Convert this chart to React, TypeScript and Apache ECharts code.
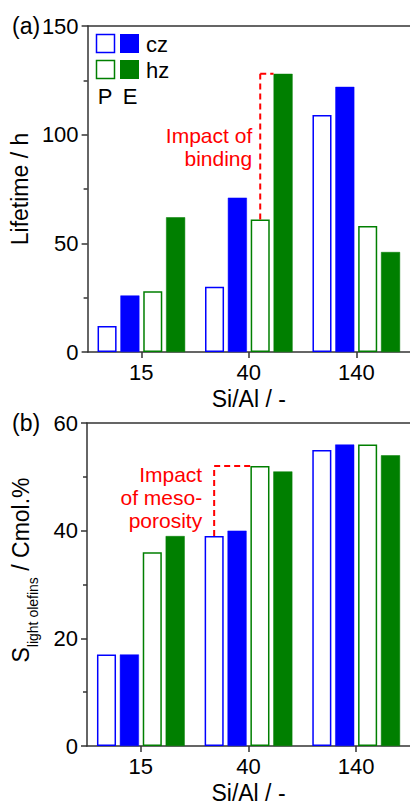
import React, { useEffect, useRef } from 'react';
import * as echarts from 'echarts';

const categories = ['15', '40', '140'];
const lifetimePcz = [12, 30, 109];
const lifetimeEcz = [26, 71, 122];
const lifetimePhz = [28, 61, 58];
const lifetimeEhz = [62, 128, 46];
const selPcz = [17, 39, 55];
const selEcz = [17, 40, 56];
const selPhz = [36, 52, 56];
const selEhz = [39, 51, 54];
const lifetimeAxis = [0, 150, 50];
const selAxis = [0, 60, 20];
// category index, lower value, upper value, bar index of vertical, bar index reached by horizontal
const bindingNote = [1, 61, 128, 2, 3];
const mesoNote = [1, 39, 52, 0, 2];

const FONT = '"Liberation Sans", Arial, Helvetica, sans-serif';
const BLUE = '#0000ff';
const GREEN = '#007f00';
const AXIS = '#333333';
const CAT_GAP = 0.185;
const BAR_GAP = 0.2;
const NBARS = 4;

function barSeries(name: string, data: number[], color: string, open: boolean, idx: number) {
  return {
    name,
    type: 'bar',
    xAxisIndex: idx,
    yAxisIndex: idx,
    data,
    barGap: '20%',
    barCategoryGap: '18.5%',
    itemStyle: open
      ? { color: '#ffffff', borderColor: color, borderWidth: 1.5 }
      : { color, borderColor: color, borderWidth: 0.5 },
  };
}

function noteSeries(note: number[], text: string, idx: number, dx: number, dy: number, lh: number) {
  return {
    type: 'custom',
    xAxisIndex: idx,
    yAxisIndex: idx,
    data: [note],
    z: 10,
    clip: false,
    renderItem: (params: any, api: any) => {
      const cat = api.value(0);
      const lo = api.value(1);
      const hi = api.value(2);
      const bFrom = api.value(3);
      const bTo = api.value(4);
      const pLo = api.coord([cat, lo]);
      const pHi = api.coord([cat, hi]);
      const band = api.size([1, 0])[0];
      const groupW = band * (1 - CAT_GAP);
      const bw = groupW / (NBARS + (NBARS - 1) * BAR_GAP);
      const left0 = pLo[0] - groupW / 2;
      const xv = left0 + bFrom * bw * (1 + BAR_GAP) + bw / 2;
      const xh = left0 + bTo * bw * (1 + BAR_GAP);
      const ls = { stroke: '#ff0000', lineWidth: 2, lineDash: [6, 4] };
      return {
        type: 'group',
        children: [
          { type: 'line', shape: { x1: xv, y1: pLo[1], x2: xv, y2: pHi[1] }, style: ls },
          { type: 'line', shape: { x1: xv, y1: pHi[1], x2: xh, y2: pHi[1] }, style: ls },
          {
            type: 'text',
            x: xv - dx,
            y: (pLo[1] + pHi[1]) / 2 + dy,
            style: {
              text,
              align: 'right',
              verticalAlign: 'middle',
              fontSize: 21,
              lineHeight: lh,
              fontFamily: FONT,
              fill: '#ff0000',
            },
          },
        ],
      };
    },
  };
}

function xAxisCfg(idx: number) {
  return {
    type: 'category',
    gridIndex: idx,
    data: categories,
    name: 'Si/Al / -',
    nameLocation: 'middle',
    nameGap: 35,
    nameTextStyle: { fontSize: 23, fontFamily: FONT, color: '#000' },
    axisLine: { show: true, lineStyle: { color: AXIS, width: 1.5 } },
    axisTick: { show: true, alignWithLabel: true, length: 6, lineStyle: { color: AXIS, width: 1.5 } },
    axisLabel: { fontSize: 22, fontFamily: FONT, color: '#000', margin: 9 },
    splitLine: { show: false },
  };
}

function topAxisCfg(idx: number) {
  return {
    type: 'category',
    gridIndex: idx,
    position: 'top',
    data: categories,
    axisLine: { show: true, lineStyle: { color: AXIS, width: 1.5 } },
    axisTick: { show: false },
    axisLabel: { show: false },
    splitLine: { show: false },
  };
}

function yAxisCfg(idx: number, range: number[], name: string) {
  return {
    type: 'value',
    gridIndex: idx,
    min: range[0],
    max: range[1],
    interval: range[2],
    name,
    nameLocation: 'middle',
    nameGap: 51,
    nameTextStyle: { fontSize: 23, fontFamily: FONT, color: '#000' },
    axisLine: { show: true, lineStyle: { color: AXIS, width: 1.5 } },
    axisTick: { show: true, length: 6, lineStyle: { color: AXIS, width: 1.5 } },
    minorTick: { show: true, splitNumber: 2, length: 4, lineStyle: { color: AXIS, width: 1.5 } },
    axisLabel: { fontSize: 22, fontFamily: FONT, color: '#000', margin: 9 },
    splitLine: { show: false },
    minorSplitLine: { show: false },
  };
}

export default function App() {
  const ref = useRef<HTMLDivElement>(null);
  useEffect(() => {
    if (!ref.current) return;
    const chart = echarts.init(ref.current, undefined, { renderer: 'svg' });
    const txt = (t: string, x: number, y: number, align = 'left', size = 22) => ({
      type: 'text',
      x,
      y,
      style: { text: t, fontSize: size, fontFamily: FONT, fill: '#000', align, verticalAlign: 'middle' },
    });
    chart.setOption({
      animation: false,
      backgroundColor: '#ffffff',
      grid: [
        { left: 87, top: 26, width: 324, height: 326, show: false, borderWidth: 0 },
        { left: 87, top: 423, width: 324, height: 326, show: false, borderWidth: 0 },
      ],
      xAxis: [xAxisCfg(0), xAxisCfg(1), topAxisCfg(0), topAxisCfg(1)],
      yAxis: [yAxisCfg(0, lifetimeAxis, 'Lifetime / h'), yAxisCfg(1, selAxis, '')],
      series: [
        barSeries('P cz', lifetimePcz, BLUE, true, 0),
        barSeries('E cz', lifetimeEcz, BLUE, false, 0),
        barSeries('P hz', lifetimePhz, GREEN, true, 0),
        barSeries('E hz', lifetimeEhz, GREEN, false, 0),
        barSeries('P cz', selPcz, BLUE, true, 1),
        barSeries('E cz', selEcz, BLUE, false, 1),
        barSeries('P hz', selPhz, GREEN, true, 1),
        barSeries('E hz', selEhz, GREEN, false, 1),
        noteSeries(bindingNote, 'Impact of\nbinding', 0, 8, 0, 23),
        noteSeries(mesoNote, 'Impact\nof meso-\nporosity', 1, 12, -4, 23),
      ],
      graphic: [
        txt('(a)', 12, 26, 'left', 23),
        txt('(b)', 12, 423, 'left', 23),
        { type: 'rect', shape: { x: 96.5, y: 34.5, width: 18, height: 18 }, style: { fill: '#fff', stroke: BLUE, lineWidth: 1.5 } },
        { type: 'rect', shape: { x: 120, y: 34, width: 19, height: 19 }, style: { fill: BLUE } },
        { type: 'rect', shape: { x: 96.5, y: 60.5, width: 18, height: 18 }, style: { fill: '#fff', stroke: GREEN, lineWidth: 1.5 } },
        { type: 'rect', shape: { x: 120, y: 60, width: 19, height: 19 }, style: { fill: GREEN } },
        txt('cz', 146, 44),
        txt('hz', 146, 70),
        txt('P', 105, 96, 'center'),
        txt('E', 130, 96, 'center'),
        {
          type: 'text',
          x: 21,
          y: 570,
          rotation: Math.PI / 2,
          style: {
            text: '{m|S}{s|light olefins}{m| / Cmol.%}',
            align: 'center',
            verticalAlign: 'middle',
            fontFamily: FONT,
            fill: '#000',
            rich: {
              m: { fontSize: 23, fontFamily: FONT, lineHeight: 38, verticalAlign: 'middle', fill: '#000' },
              s: { fontSize: 14, fontFamily: FONT, lineHeight: 14, verticalAlign: 'bottom', fill: '#000' },
            },
          },
        },
      ],
    });
    return () => chart.dispose();
  }, []);
  return <div ref={ref} style={{ position: 'absolute', left: 0, top: 0, width: 410, height: 805 }} />;
}
